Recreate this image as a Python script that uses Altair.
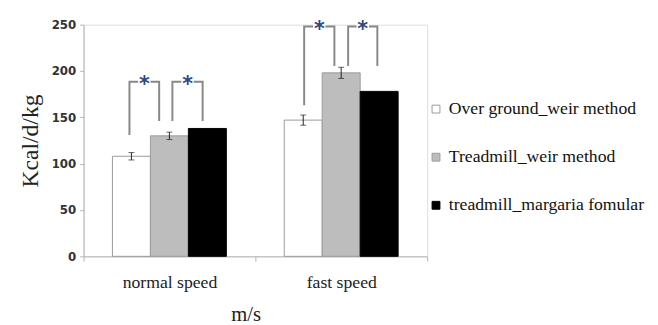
import altair as alt
import pandas as pd

categories = ["normal speed", "fast speed"]
series = ["Over ground_weir method", "Treadmill_weir method", "treadmill_margaria fomular"]
normal_values = [108, 130, 138]
fast_values = [147, 198, 178]
normal_err = [4, 4, 0]
fast_err = [5.5, 6, 0]

# significance brackets (position within category band, 0..1)
br_cat = [0, 0, 1, 1]
br_left = [0.267, 0.517, 0.284, 0.54]
br_right = [0.44, 0.693, 0.46, 0.71]
br_top = [188.5, 188.5, 248, 248]
br_left_bottom = [131, 146, 163, 205.5]
br_right_bottom = [146, 146, 205.5, 205.5]

bar_start = 0.168
bar_w = 0.221

rows = []
for c, (vals, errs) in enumerate([(normal_values, normal_err), (fast_values, fast_err)]):
    for s, (v, e) in enumerate(zip(vals, errs)):
        x0 = c + bar_start + s * bar_w
        rows.append(dict(category=categories[c], series=series[s], x0=x0, x1=x0 + bar_w,
                         xc=x0 + bar_w / 2, value=v, base=0, lo=v - e, hi=v + e, err=e, order=s))
bars_df = pd.DataFrame(rows)

br_rows = []
star_rows = []
for i in range(len(br_cat)):
    xl = br_cat[i] + br_left[i]
    xr = br_cat[i] + br_right[i]
    pts = [(xl, br_left_bottom[i]), (xl, br_top[i]), (xr, br_top[i]), (xr, br_right_bottom[i])]
    for k, (x, y) in enumerate(pts):
        br_rows.append(dict(b=i, k=k, x=x, y=y))
    star_rows.append(dict(x=(xl + xr) / 2, y=br_top[i], t="*"))
br_df = pd.DataFrame(br_rows)
star_df = pd.DataFrame(star_rows)

label_expr = " : ".join(
    [f"datum.value == {i + 0.5} ? '{c}'" for i, c in enumerate(categories)]) + " : ''"

xscale = alt.Scale(domain=[0, 2], nice=False, zero=False)
yscale = alt.Scale(domain=[0, 250], nice=False)

x_axis = alt.Axis(
    values=[0, 0.5, 1, 1.5, 2], labelExpr=label_expr, grid=False, title="m/s",
    tickOpacity={"condition": {"test": "datum.value % 1 != 0", "value": 0}, "value": 1},
    tickSize=5, labelPadding=13, labelFont="Liberation Serif", labelFontSize=18,
    labelColor="#222", labelOverlap=False, labelBound=False, labelFlush=False,
    titleFont="Liberation Serif", titleFontSize=21, titleFontWeight="normal",
    titleColor="#222", titlePadding=12, titleX=165,
    domainColor="#b5b5b5", tickColor="#b5b5b5",
)
y_axis = alt.Axis(
    values=[0, 50, 100, 150, 200, 250], grid=False, title="Kcal/d/kg",
    tickSize=4, labelPadding=4, labelFont="DejaVu Sans", labelFontSize=12,
    labelFontWeight="bold", labelColor="#333",
    titleFont="Liberation Serif", titleFontSize=24, titleFontWeight="normal",
    titleColor="#222", titlePadding=9,
    domainColor="#b5b5b5", tickColor="#b5b5b5",
)

bars = alt.Chart(bars_df).mark_rect(strokeWidth=1).encode(
    x=alt.X("x0:Q", scale=xscale, axis=x_axis),
    x2="x1:Q",
    y=alt.Y("value:Q", scale=yscale, axis=y_axis),
    y2="base:Q",
    color=alt.Color("series:N", scale=alt.Scale(domain=series, range=["#ffffff", "#bdbdbd", "#000000"]),
                    sort=series,
                    legend=alt.Legend(title=None, orient="none", legendX=350, legendY=77,
                                      symbolType="square", symbolSize=64, symbolStrokeColor="#000",
                                      symbolStrokeWidth=1, labelFont="Liberation Serif",
                                      labelFontSize=18, labelColor="#111", rowPadding=31,
                                      labelLimit=300, symbolOffset=0, labelOffset=4)),
    stroke=alt.Stroke("series:N", scale=alt.Scale(domain=series, range=["#9a9a9a", "#9a9a9a", "#000000"]),
                      legend=None),
)

errs = alt.Chart(bars_df).transform_filter("datum.err > 0").mark_errorbar(
    ticks=alt.MarkConfig(size=6, color="#222"), color="#222", thickness=1).encode(
    x=alt.X("xc:Q", scale=xscale),
    y=alt.Y("lo:Q", scale=yscale, title="Kcal/d/kg"),
    y2="hi:Q",
)

brackets = alt.Chart(br_df).mark_line(color="#888", strokeWidth=2, strokeCap="butt",
                                      strokeJoin="miter").encode(
    x=alt.X("x:Q", scale=xscale),
    y=alt.Y("y:Q", scale=yscale),
    detail="b:N",
    order="k:Q",
)

gaps = alt.Chart(star_df).mark_square(size=160, color="white", opacity=1, filled=True).encode(
    x=alt.X("x:Q", scale=xscale),
    y=alt.Y("y:Q", scale=yscale),
)

stars = alt.Chart(star_df).mark_text(font="DejaVu Sans", fontSize=21, fontWeight="bold",
                                     color="#2c4a85", baseline="middle", dy=4).encode(
    x=alt.X("x:Q", scale=xscale),
    y=alt.Y("y:Q", scale=yscale),
    text="t:N",
)

chart = alt.layer(bars, errs, brackets, gaps, stars).properties(
    width=350, height=236, padding={"left": 10, "top": 8, "right": 5, "bottom": 0}
).configure_view(stroke=None).configure(background="white")

chart.save("out.html", embed_options={"renderer": "svg", "actions": False})
